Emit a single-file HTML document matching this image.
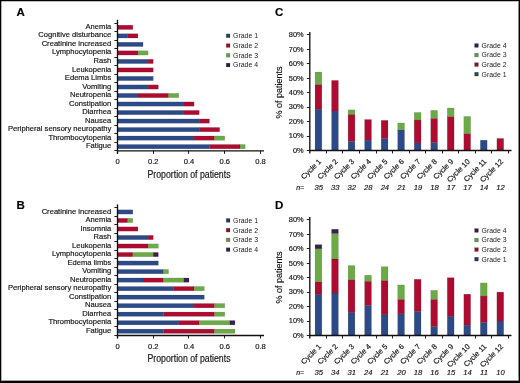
<!DOCTYPE html>
<html><head><meta charset="utf-8"><style>
html,body{margin:0;padding:0;background:#fff;}
body{width:520px;height:383px;overflow:hidden;position:relative;}
svg{position:absolute;left:0;top:0;font-family:'Liberation Sans', sans-serif;filter:blur(0.3px);}
.br{stroke:#000;stroke-opacity:.18;stroke-width:.5px;}
.lg{stroke:#000;stroke-opacity:.25;stroke-width:.5px;}
text{stroke:#000;stroke-width:0.15px;paint-order:stroke;}
.lt{stroke:none;}
.b{position:absolute;background:#000;}
</style></head><body>
<svg width="520" height="383" viewBox="0 0 520 383">
<rect x="0" y="0" width="520" height="383" fill="#fff"/>
<text x="16.6" y="16.45" font-size="11.5" font-weight="bold" fill="#000">A</text>
<rect x="117.5" y="25.21" width="15.32" height="4.3" fill="#ad0b2f" class="br"/>
<text x="111.3" y="28.91" font-size="7.6" text-anchor="end" fill="#111">Anemia</text>
<rect x="117.5" y="33.73" width="10.21" height="4.3" fill="#2c4a87" class="br"/>
<rect x="127.71" y="33.73" width="10.21" height="4.3" fill="#ad0b2f" class="br"/>
<text x="111.3" y="37.43" font-size="7.6" text-anchor="end" fill="#111">Cognitive disturbance</text>
<rect x="117.5" y="42.25" width="25.54" height="4.3" fill="#2c4a87" class="br"/>
<text x="111.3" y="45.95" font-size="7.6" text-anchor="end" fill="#111">Creatinine increased</text>
<rect x="117.5" y="50.77" width="20.43" height="4.3" fill="#ad0b2f" class="br"/>
<rect x="137.93" y="50.77" width="10.21" height="4.3" fill="#6caa46" class="br"/>
<text x="111.3" y="54.47" font-size="7.6" text-anchor="end" fill="#111">Lymphocytopenia</text>
<rect x="117.5" y="59.29" width="30.64" height="4.3" fill="#2c4a87" class="br"/>
<rect x="148.14" y="59.29" width="5.11" height="4.3" fill="#ad0b2f" class="br"/>
<text x="111.3" y="62.99" font-size="7.6" text-anchor="end" fill="#111">Rash</text>
<rect x="117.5" y="67.81" width="35.75" height="4.3" fill="#ad0b2f" class="br"/>
<text x="111.3" y="71.51" font-size="7.6" text-anchor="end" fill="#111">Leukopenia</text>
<rect x="117.5" y="76.33" width="35.75" height="4.3" fill="#2c4a87" class="br"/>
<text x="111.3" y="80.03" font-size="7.6" text-anchor="end" fill="#111">Edema Limbs</text>
<rect x="117.5" y="84.85" width="30.64" height="4.3" fill="#2c4a87" class="br"/>
<rect x="148.14" y="84.85" width="10.21" height="4.3" fill="#ad0b2f" class="br"/>
<text x="111.3" y="88.55" font-size="7.6" text-anchor="end" fill="#111">Vomiting</text>
<rect x="117.5" y="93.37" width="20.43" height="4.3" fill="#2c4a87" class="br"/>
<rect x="137.93" y="93.37" width="30.64" height="4.3" fill="#ad0b2f" class="br"/>
<rect x="168.57" y="93.37" width="10.21" height="4.3" fill="#6caa46" class="br"/>
<text x="111.3" y="97.07" font-size="7.6" text-anchor="end" fill="#111">Neutropenia</text>
<rect x="117.5" y="101.89" width="66.39" height="4.3" fill="#2c4a87" class="br"/>
<rect x="183.89" y="101.89" width="10.21" height="4.3" fill="#ad0b2f" class="br"/>
<text x="111.3" y="105.59" font-size="7.6" text-anchor="end" fill="#111">Constipation</text>
<rect x="117.5" y="110.41" width="66.39" height="4.3" fill="#2c4a87" class="br"/>
<rect x="183.89" y="110.41" width="15.32" height="4.3" fill="#ad0b2f" class="br"/>
<text x="111.3" y="114.11" font-size="7.6" text-anchor="end" fill="#111">Diarrhea</text>
<rect x="117.5" y="118.93" width="81.71" height="4.3" fill="#2c4a87" class="br"/>
<rect x="199.21" y="118.93" width="10.21" height="4.3" fill="#ad0b2f" class="br"/>
<text x="111.3" y="122.63" font-size="7.6" text-anchor="end" fill="#111">Nausea</text>
<rect x="117.5" y="127.45" width="81.71" height="4.3" fill="#2c4a87" class="br"/>
<rect x="199.21" y="127.45" width="20.43" height="4.3" fill="#ad0b2f" class="br"/>
<text x="111.3" y="131.15" font-size="7.6" text-anchor="end" fill="#111">Peripheral sensory neuropathy</text>
<rect x="117.5" y="135.97" width="76.61" height="4.3" fill="#2c4a87" class="br"/>
<rect x="194.11" y="135.97" width="20.43" height="4.3" fill="#ad0b2f" class="br"/>
<rect x="214.54" y="135.97" width="10.21" height="4.3" fill="#6caa46" class="br"/>
<text x="111.3" y="139.67" font-size="7.6" text-anchor="end" fill="#111">Thrombocytopenia</text>
<rect x="117.5" y="144.49" width="91.93" height="4.3" fill="#2c4a87" class="br"/>
<rect x="209.43" y="144.49" width="30.64" height="4.3" fill="#ad0b2f" class="br"/>
<rect x="240.07" y="144.49" width="5.11" height="4.3" fill="#6caa46" class="br"/>
<text x="111.3" y="148.19" font-size="7.6" text-anchor="end" fill="#111">Fatigue</text>
<line x1="117.5" y1="19.8" x2="117.5" y2="153.85" stroke="#111" stroke-width="1.35"/>
<line x1="114.4" y1="23.5" x2="117.5" y2="23.5" stroke="#111" stroke-width="0.95"/>
<line x1="114.4" y1="31.5" x2="117.5" y2="31.5" stroke="#111" stroke-width="0.95"/>
<line x1="114.4" y1="40.5" x2="117.5" y2="40.5" stroke="#111" stroke-width="0.95"/>
<line x1="114.4" y1="48.5" x2="117.5" y2="48.5" stroke="#111" stroke-width="0.95"/>
<line x1="114.4" y1="57.5" x2="117.5" y2="57.5" stroke="#111" stroke-width="0.95"/>
<line x1="114.4" y1="65.5" x2="117.5" y2="65.5" stroke="#111" stroke-width="0.95"/>
<line x1="114.4" y1="74.5" x2="117.5" y2="74.5" stroke="#111" stroke-width="0.95"/>
<line x1="114.4" y1="82.5" x2="117.5" y2="82.5" stroke="#111" stroke-width="0.95"/>
<line x1="114.4" y1="91.5" x2="117.5" y2="91.5" stroke="#111" stroke-width="0.95"/>
<line x1="114.4" y1="99.5" x2="117.5" y2="99.5" stroke="#111" stroke-width="0.95"/>
<line x1="114.4" y1="108.5" x2="117.5" y2="108.5" stroke="#111" stroke-width="0.95"/>
<line x1="114.4" y1="116.5" x2="117.5" y2="116.5" stroke="#111" stroke-width="0.95"/>
<line x1="114.4" y1="125.5" x2="117.5" y2="125.5" stroke="#111" stroke-width="0.95"/>
<line x1="114.4" y1="133.5" x2="117.5" y2="133.5" stroke="#111" stroke-width="0.95"/>
<line x1="114.4" y1="142.5" x2="117.5" y2="142.5" stroke="#111" stroke-width="0.95"/>
<line x1="114.4" y1="150.5" x2="117.5" y2="150.5" stroke="#111" stroke-width="0.95"/>
<line x1="117.5" y1="150.85" x2="264" y2="150.85" stroke="#111" stroke-width="1.35"/>
<line x1="117.5" y1="150.85" x2="117.5" y2="153.85" stroke="#111" stroke-width="0.95"/>
<text x="117.5" y="163.95" font-size="7.6" text-anchor="middle" fill="#111">0</text>
<line x1="153.5" y1="150.85" x2="153.5" y2="153.85" stroke="#111" stroke-width="0.95"/>
<text x="153.25" y="163.95" font-size="7.6" text-anchor="middle" fill="#111">0.2</text>
<line x1="188.5" y1="150.85" x2="188.5" y2="153.85" stroke="#111" stroke-width="0.95"/>
<text x="189" y="163.95" font-size="7.6" text-anchor="middle" fill="#111">0.4</text>
<line x1="224.5" y1="150.85" x2="224.5" y2="153.85" stroke="#111" stroke-width="0.95"/>
<text x="224.75" y="163.95" font-size="7.6" text-anchor="middle" fill="#111">0.6</text>
<line x1="260.5" y1="150.85" x2="260.5" y2="153.85" stroke="#111" stroke-width="0.95"/>
<text x="260.5" y="163.95" font-size="7.6" text-anchor="middle" fill="#111">0.8</text>
<text transform="translate(189,177.7) scale(0.875,1)" font-size="10" text-anchor="middle" fill="#111">Proportion of patients</text>
<rect x="226.2" y="33.9" width="3.8" height="3.8" fill="#1f4a5c" class="lg"/>
<text x="233.1" y="38.2" font-size="6.9" fill="#222" class="lt">Grade 1</text>
<rect x="226.2" y="43.65" width="3.8" height="3.8" fill="#96122e" class="lg"/>
<text x="233.1" y="47.95" font-size="6.9" fill="#222" class="lt">Grade 2</text>
<rect x="226.2" y="53.4" width="3.8" height="3.8" fill="#6b9c4c" class="lg"/>
<text x="233.1" y="57.7" font-size="6.9" fill="#222" class="lt">Grade 3</text>
<rect x="226.2" y="63.15" width="3.8" height="3.8" fill="#2e1b40" class="lg"/>
<text x="233.1" y="67.45" font-size="6.9" fill="#222" class="lt">Grade 4</text>
<text x="16.6" y="208.75" font-size="11.5" font-weight="bold" fill="#000">B</text>
<rect x="117.5" y="209.81" width="15.32" height="4.3" fill="#2c4a87" class="br"/>
<text x="111.3" y="213.51" font-size="7.6" text-anchor="end" fill="#111">Creatinine increased</text>
<rect x="117.5" y="218.33" width="10.21" height="4.3" fill="#ad0b2f" class="br"/>
<rect x="127.71" y="218.33" width="5.11" height="4.3" fill="#6caa46" class="br"/>
<text x="111.3" y="222.03" font-size="7.6" text-anchor="end" fill="#111">Anemia</text>
<rect x="117.5" y="226.85" width="20.43" height="4.3" fill="#ad0b2f" class="br"/>
<text x="111.3" y="230.55" font-size="7.6" text-anchor="end" fill="#111">Insomnia</text>
<rect x="117.5" y="235.37" width="30.64" height="4.3" fill="#2c4a87" class="br"/>
<rect x="148.14" y="235.37" width="5.11" height="4.3" fill="#ad0b2f" class="br"/>
<text x="111.3" y="239.07" font-size="7.6" text-anchor="end" fill="#111">Rash</text>
<rect x="117.5" y="243.89" width="30.64" height="4.3" fill="#ad0b2f" class="br"/>
<rect x="148.14" y="243.89" width="10.21" height="4.3" fill="#6caa46" class="br"/>
<text x="111.3" y="247.59" font-size="7.6" text-anchor="end" fill="#111">Leukopenia</text>
<rect x="117.5" y="252.41" width="15.32" height="4.3" fill="#ad0b2f" class="br"/>
<rect x="132.82" y="252.41" width="20.43" height="4.3" fill="#6caa46" class="br"/>
<rect x="153.25" y="252.41" width="5.11" height="4.3" fill="#3a1f50" class="br"/>
<text x="111.3" y="256.11" font-size="7.6" text-anchor="end" fill="#111">Lymphocytopenia</text>
<rect x="117.5" y="260.93" width="40.86" height="4.3" fill="#2c4a87" class="br"/>
<text x="111.3" y="264.63" font-size="7.6" text-anchor="end" fill="#111">Edema limbs</text>
<rect x="117.5" y="269.45" width="45.96" height="4.3" fill="#2c4a87" class="br"/>
<rect x="163.46" y="269.45" width="5.11" height="4.3" fill="#6caa46" class="br"/>
<text x="111.3" y="273.15" font-size="7.6" text-anchor="end" fill="#111">Vomiting</text>
<rect x="117.5" y="277.97" width="25.54" height="4.3" fill="#2c4a87" class="br"/>
<rect x="143.04" y="277.97" width="20.43" height="4.3" fill="#ad0b2f" class="br"/>
<rect x="163.46" y="277.97" width="20.43" height="4.3" fill="#6caa46" class="br"/>
<rect x="183.89" y="277.97" width="5.11" height="4.3" fill="#3a1f50" class="br"/>
<text x="111.3" y="281.67" font-size="7.6" text-anchor="end" fill="#111">Neutropenia</text>
<rect x="117.5" y="286.49" width="56.18" height="4.3" fill="#2c4a87" class="br"/>
<rect x="173.68" y="286.49" width="20.43" height="4.3" fill="#ad0b2f" class="br"/>
<rect x="194.11" y="286.49" width="10.21" height="4.3" fill="#6caa46" class="br"/>
<text x="111.3" y="290.19" font-size="7.6" text-anchor="end" fill="#111">Peripheral sensory neuropathy</text>
<rect x="117.5" y="295.01" width="86.82" height="4.3" fill="#2c4a87" class="br"/>
<text x="111.3" y="298.71" font-size="7.6" text-anchor="end" fill="#111">Constipation</text>
<rect x="117.5" y="303.53" width="76.61" height="4.3" fill="#2c4a87" class="br"/>
<rect x="194.11" y="303.53" width="20.43" height="4.3" fill="#ad0b2f" class="br"/>
<rect x="214.54" y="303.53" width="10.21" height="4.3" fill="#6caa46" class="br"/>
<text x="111.3" y="307.23" font-size="7.6" text-anchor="end" fill="#111">Nausea</text>
<rect x="117.5" y="312.05" width="45.96" height="4.3" fill="#2c4a87" class="br"/>
<rect x="163.46" y="312.05" width="51.07" height="4.3" fill="#ad0b2f" class="br"/>
<rect x="214.54" y="312.05" width="10.21" height="4.3" fill="#6caa46" class="br"/>
<text x="111.3" y="315.75" font-size="7.6" text-anchor="end" fill="#111">Diarrhea</text>
<rect x="117.5" y="320.57" width="61.29" height="4.3" fill="#2c4a87" class="br"/>
<rect x="178.79" y="320.57" width="20.43" height="4.3" fill="#ad0b2f" class="br"/>
<rect x="199.21" y="320.57" width="30.64" height="4.3" fill="#6caa46" class="br"/>
<rect x="229.86" y="320.57" width="5.11" height="4.3" fill="#3a1f50" class="br"/>
<text x="111.3" y="324.27" font-size="7.6" text-anchor="end" fill="#111">Thrombocytopenia</text>
<rect x="117.5" y="329.09" width="45.96" height="4.3" fill="#2c4a87" class="br"/>
<rect x="163.46" y="329.09" width="51.07" height="4.3" fill="#ad0b2f" class="br"/>
<rect x="214.54" y="329.09" width="20.43" height="4.3" fill="#6caa46" class="br"/>
<text x="111.3" y="332.79" font-size="7.6" text-anchor="end" fill="#111">Fatigue</text>
<line x1="117.5" y1="204.4" x2="117.5" y2="338.45" stroke="#111" stroke-width="1.35"/>
<line x1="114.4" y1="207.5" x2="117.5" y2="207.5" stroke="#111" stroke-width="0.95"/>
<line x1="114.4" y1="216.5" x2="117.5" y2="216.5" stroke="#111" stroke-width="0.95"/>
<line x1="114.4" y1="224.5" x2="117.5" y2="224.5" stroke="#111" stroke-width="0.95"/>
<line x1="114.4" y1="233.5" x2="117.5" y2="233.5" stroke="#111" stroke-width="0.95"/>
<line x1="114.4" y1="241.5" x2="117.5" y2="241.5" stroke="#111" stroke-width="0.95"/>
<line x1="114.4" y1="250.5" x2="117.5" y2="250.5" stroke="#111" stroke-width="0.95"/>
<line x1="114.4" y1="258.5" x2="117.5" y2="258.5" stroke="#111" stroke-width="0.95"/>
<line x1="114.4" y1="267.5" x2="117.5" y2="267.5" stroke="#111" stroke-width="0.95"/>
<line x1="114.4" y1="275.5" x2="117.5" y2="275.5" stroke="#111" stroke-width="0.95"/>
<line x1="114.4" y1="284.5" x2="117.5" y2="284.5" stroke="#111" stroke-width="0.95"/>
<line x1="114.4" y1="292.5" x2="117.5" y2="292.5" stroke="#111" stroke-width="0.95"/>
<line x1="114.4" y1="301.5" x2="117.5" y2="301.5" stroke="#111" stroke-width="0.95"/>
<line x1="114.4" y1="309.5" x2="117.5" y2="309.5" stroke="#111" stroke-width="0.95"/>
<line x1="114.4" y1="318.5" x2="117.5" y2="318.5" stroke="#111" stroke-width="0.95"/>
<line x1="114.4" y1="326.5" x2="117.5" y2="326.5" stroke="#111" stroke-width="0.95"/>
<line x1="114.4" y1="335.5" x2="117.5" y2="335.5" stroke="#111" stroke-width="0.95"/>
<line x1="117.5" y1="335.45" x2="264" y2="335.45" stroke="#111" stroke-width="1.35"/>
<line x1="117.5" y1="335.45" x2="117.5" y2="338.45" stroke="#111" stroke-width="0.95"/>
<text x="117.5" y="348.55" font-size="7.6" text-anchor="middle" fill="#111">0</text>
<line x1="153.5" y1="335.45" x2="153.5" y2="338.45" stroke="#111" stroke-width="0.95"/>
<text x="153.25" y="348.55" font-size="7.6" text-anchor="middle" fill="#111">0.2</text>
<line x1="188.5" y1="335.45" x2="188.5" y2="338.45" stroke="#111" stroke-width="0.95"/>
<text x="189" y="348.55" font-size="7.6" text-anchor="middle" fill="#111">0.4</text>
<line x1="224.5" y1="335.45" x2="224.5" y2="338.45" stroke="#111" stroke-width="0.95"/>
<text x="224.75" y="348.55" font-size="7.6" text-anchor="middle" fill="#111">0.6</text>
<line x1="260.5" y1="335.45" x2="260.5" y2="338.45" stroke="#111" stroke-width="0.95"/>
<text x="260.5" y="348.55" font-size="7.6" text-anchor="middle" fill="#111">0.8</text>
<text transform="translate(189,362.3) scale(0.875,1)" font-size="10" text-anchor="middle" fill="#111">Proportion of patients</text>
<rect x="226.2" y="218.5" width="3.8" height="3.8" fill="#283a62" class="lg"/>
<text x="233.1" y="222.8" font-size="6.9" fill="#222" class="lt">Grade 1</text>
<rect x="226.2" y="228.25" width="3.8" height="3.8" fill="#8e1030" class="lg"/>
<text x="233.1" y="232.55" font-size="6.9" fill="#222" class="lt">Grade 2</text>
<rect x="226.2" y="238" width="3.8" height="3.8" fill="#6b8f52" class="lg"/>
<text x="233.1" y="242.3" font-size="6.9" fill="#222" class="lt">Grade 3</text>
<rect x="226.2" y="247.75" width="3.8" height="3.8" fill="#352445" class="lg"/>
<text x="233.1" y="252.05" font-size="6.9" fill="#222" class="lt">Grade 4</text>
<text x="275" y="16.45" font-size="11.5" font-weight="bold" fill="#000">C</text>
<rect x="315.05" y="109.19" width="6.8" height="41.29" fill="#2c4a87" class="br"/>
<rect x="315.05" y="84.42" width="6.8" height="24.77" fill="#ad0b2f" class="br"/>
<rect x="315.05" y="72.04" width="6.8" height="12.39" fill="#6caa46" class="br"/>
<text transform="translate(321.75,162.08) rotate(-45)" font-size="7.5" text-anchor="end" fill="#111">Cycle 1</text>
<text x="318.75" y="190.28" font-size="7.6" font-style="italic" text-anchor="middle" fill="#111">35</text>
<rect x="331.58" y="111.07" width="6.8" height="39.41" fill="#2c4a87" class="br"/>
<rect x="331.58" y="80.42" width="6.8" height="30.65" fill="#ad0b2f" class="br"/>
<text transform="translate(338.28,162.08) rotate(-45)" font-size="7.5" text-anchor="end" fill="#111">Cycle 2</text>
<text x="335.28" y="190.28" font-size="7.6" font-style="italic" text-anchor="middle" fill="#111">33</text>
<rect x="348.11" y="141.45" width="6.8" height="9.03" fill="#2c4a87" class="br"/>
<rect x="348.11" y="114.35" width="6.8" height="27.09" fill="#ad0b2f" class="br"/>
<rect x="348.11" y="109.84" width="6.8" height="4.52" fill="#6caa46" class="br"/>
<text transform="translate(354.81,162.08) rotate(-45)" font-size="7.5" text-anchor="end" fill="#111">Cycle 3</text>
<text x="351.81" y="190.28" font-size="7.6" font-style="italic" text-anchor="middle" fill="#111">32</text>
<rect x="364.64" y="140.16" width="6.8" height="10.32" fill="#2c4a87" class="br"/>
<rect x="364.64" y="119.52" width="6.8" height="20.64" fill="#ad0b2f" class="br"/>
<text transform="translate(371.34,162.08) rotate(-45)" font-size="7.5" text-anchor="end" fill="#111">Cycle 4</text>
<text x="368.34" y="190.28" font-size="7.6" font-style="italic" text-anchor="middle" fill="#111">28</text>
<rect x="381.17" y="138.44" width="6.8" height="12.04" fill="#2c4a87" class="br"/>
<rect x="381.17" y="120.38" width="6.8" height="18.06" fill="#ad0b2f" class="br"/>
<text transform="translate(387.87,162.08) rotate(-45)" font-size="7.5" text-anchor="end" fill="#111">Cycle 5</text>
<text x="384.87" y="190.28" font-size="7.6" font-style="italic" text-anchor="middle" fill="#111">24</text>
<rect x="397.7" y="129.84" width="6.8" height="20.64" fill="#2c4a87" class="br"/>
<rect x="397.7" y="122.96" width="6.8" height="6.88" fill="#6caa46" class="br"/>
<text transform="translate(404.4,162.08) rotate(-45)" font-size="7.5" text-anchor="end" fill="#111">Cycle 6</text>
<text x="401.4" y="190.28" font-size="7.6" font-style="italic" text-anchor="middle" fill="#111">21</text>
<rect x="414.23" y="142.87" width="6.8" height="7.61" fill="#2c4a87" class="br"/>
<rect x="414.23" y="120.06" width="6.8" height="22.82" fill="#ad0b2f" class="br"/>
<rect x="414.23" y="112.45" width="6.8" height="7.61" fill="#6caa46" class="br"/>
<text transform="translate(420.93,162.08) rotate(-45)" font-size="7.5" text-anchor="end" fill="#111">Cycle 7</text>
<text x="417.93" y="190.28" font-size="7.6" font-style="italic" text-anchor="middle" fill="#111">19</text>
<rect x="430.76" y="142.45" width="6.8" height="8.03" fill="#2c4a87" class="br"/>
<rect x="430.76" y="118.37" width="6.8" height="24.08" fill="#ad0b2f" class="br"/>
<rect x="430.76" y="110.34" width="6.8" height="8.03" fill="#6caa46" class="br"/>
<text transform="translate(437.46,162.08) rotate(-45)" font-size="7.5" text-anchor="end" fill="#111">Cycle 8</text>
<text x="434.46" y="190.28" font-size="7.6" font-style="italic" text-anchor="middle" fill="#111">18</text>
<rect x="447.29" y="116.48" width="6.8" height="34" fill="#ad0b2f" class="br"/>
<rect x="447.29" y="107.98" width="6.8" height="8.5" fill="#6caa46" class="br"/>
<text transform="translate(453.99,162.08) rotate(-45)" font-size="7.5" text-anchor="end" fill="#111">Cycle 9</text>
<text x="450.99" y="190.28" font-size="7.6" font-style="italic" text-anchor="middle" fill="#111">17</text>
<rect x="463.82" y="133.48" width="6.8" height="17" fill="#ad0b2f" class="br"/>
<rect x="463.82" y="116.48" width="6.8" height="17" fill="#6caa46" class="br"/>
<text transform="translate(470.52,162.08) rotate(-45)" font-size="7.5" text-anchor="end" fill="#111">Cycle 10</text>
<text x="467.52" y="190.28" font-size="7.6" font-style="italic" text-anchor="middle" fill="#111">17</text>
<rect x="480.35" y="140.16" width="6.8" height="10.32" fill="#2c4a87" class="br"/>
<text transform="translate(487.05,162.08) rotate(-45)" font-size="7.5" text-anchor="end" fill="#111">Cycle 11</text>
<text x="484.05" y="190.28" font-size="7.6" font-style="italic" text-anchor="middle" fill="#111">14</text>
<rect x="496.88" y="138.44" width="6.8" height="12.04" fill="#ad0b2f" class="br"/>
<text transform="translate(503.58,162.08) rotate(-45)" font-size="7.5" text-anchor="end" fill="#111">Cycle 12</text>
<text x="500.58" y="190.28" font-size="7.6" font-style="italic" text-anchor="middle" fill="#111">12</text>
<text x="296.2" y="190.28" font-size="7.0" font-style="italic" fill="#111">n=</text>
<line x1="309.8" y1="31.98" x2="309.8" y2="153.48" stroke="#111" stroke-width="1.35"/>
<line x1="309.8" y1="150.48" x2="511.5" y2="150.48" stroke="#111" stroke-width="1.35"/>
<line x1="306.8" y1="150.5" x2="309.8" y2="150.5" stroke="#111" stroke-width="0.95"/>
<text x="303.6" y="152.83" font-size="7.4" text-anchor="end" fill="#111">0%</text>
<line x1="306.8" y1="136.5" x2="309.8" y2="136.5" stroke="#111" stroke-width="0.95"/>
<text x="303.6" y="138.38" font-size="7.4" text-anchor="end" fill="#111">10%</text>
<line x1="306.8" y1="121.5" x2="309.8" y2="121.5" stroke="#111" stroke-width="0.95"/>
<text x="303.6" y="123.93" font-size="7.4" text-anchor="end" fill="#111">20%</text>
<line x1="306.8" y1="107.5" x2="309.8" y2="107.5" stroke="#111" stroke-width="0.95"/>
<text x="303.6" y="109.48" font-size="7.4" text-anchor="end" fill="#111">30%</text>
<line x1="306.8" y1="92.5" x2="309.8" y2="92.5" stroke="#111" stroke-width="0.95"/>
<text x="303.6" y="95.03" font-size="7.4" text-anchor="end" fill="#111">40%</text>
<line x1="306.8" y1="78.5" x2="309.8" y2="78.5" stroke="#111" stroke-width="0.95"/>
<text x="303.6" y="80.58" font-size="7.4" text-anchor="end" fill="#111">50%</text>
<line x1="306.8" y1="63.5" x2="309.8" y2="63.5" stroke="#111" stroke-width="0.95"/>
<text x="303.6" y="66.13" font-size="7.4" text-anchor="end" fill="#111">60%</text>
<line x1="306.8" y1="49.5" x2="309.8" y2="49.5" stroke="#111" stroke-width="0.95"/>
<text x="303.6" y="51.68" font-size="7.4" text-anchor="end" fill="#111">70%</text>
<line x1="306.8" y1="34.5" x2="309.8" y2="34.5" stroke="#111" stroke-width="0.95"/>
<text x="303.6" y="37.23" font-size="7.4" text-anchor="end" fill="#111">80%</text>
<line x1="326.5" y1="150.48" x2="326.5" y2="153.48" stroke="#111" stroke-width="0.95"/>
<line x1="342.5" y1="150.48" x2="342.5" y2="153.48" stroke="#111" stroke-width="0.95"/>
<line x1="359.5" y1="150.48" x2="359.5" y2="153.48" stroke="#111" stroke-width="0.95"/>
<line x1="376.5" y1="150.48" x2="376.5" y2="153.48" stroke="#111" stroke-width="0.95"/>
<line x1="392.5" y1="150.48" x2="392.5" y2="153.48" stroke="#111" stroke-width="0.95"/>
<line x1="409.5" y1="150.48" x2="409.5" y2="153.48" stroke="#111" stroke-width="0.95"/>
<line x1="425.5" y1="150.48" x2="425.5" y2="153.48" stroke="#111" stroke-width="0.95"/>
<line x1="442.5" y1="150.48" x2="442.5" y2="153.48" stroke="#111" stroke-width="0.95"/>
<line x1="458.5" y1="150.48" x2="458.5" y2="153.48" stroke="#111" stroke-width="0.95"/>
<line x1="475.5" y1="150.48" x2="475.5" y2="153.48" stroke="#111" stroke-width="0.95"/>
<line x1="491.5" y1="150.48" x2="491.5" y2="153.48" stroke="#111" stroke-width="0.95"/>
<line x1="508.5" y1="150.48" x2="508.5" y2="153.48" stroke="#111" stroke-width="0.95"/>
<text transform="translate(282.3,92.5) rotate(-90)" font-size="9.0" text-anchor="middle" fill="#111">% of patients</text>
<rect x="474.6" y="43.6" width="3.8" height="3.8" fill="#2e1e45" class="lg"/>
<text x="481.6" y="47.9" font-size="6.9" fill="#222" class="lt">Grade 4</text>
<rect x="474.6" y="53.15" width="3.8" height="3.8" fill="#5f9455" class="lg"/>
<text x="481.6" y="57.45" font-size="6.9" fill="#222" class="lt">Grade 3</text>
<rect x="474.6" y="62.7" width="3.8" height="3.8" fill="#7e1526" class="lg"/>
<text x="481.6" y="67" font-size="6.9" fill="#222" class="lt">Grade 2</text>
<rect x="474.6" y="72.25" width="3.8" height="3.8" fill="#1e4a55" class="lg"/>
<text x="481.6" y="76.55" font-size="6.9" fill="#222" class="lt">Grade 1</text>
<text x="275" y="208.75" font-size="11.5" font-weight="bold" fill="#000">D</text>
<rect x="315.05" y="294.19" width="6.8" height="41.29" fill="#2c4a87" class="br"/>
<rect x="315.05" y="281.81" width="6.8" height="12.39" fill="#ad0b2f" class="br"/>
<rect x="315.05" y="248.78" width="6.8" height="33.03" fill="#6caa46" class="br"/>
<rect x="315.05" y="244.65" width="6.8" height="4.13" fill="#3a1f50" class="br"/>
<text transform="translate(321.75,347.08) rotate(-45)" font-size="7.5" text-anchor="end" fill="#111">Cycle 1</text>
<text x="318.75" y="375.28" font-size="7.6" font-style="italic" text-anchor="middle" fill="#111">35</text>
<rect x="331.58" y="292.98" width="6.8" height="42.5" fill="#2c4a87" class="br"/>
<rect x="331.58" y="258.98" width="6.8" height="34" fill="#ad0b2f" class="br"/>
<rect x="331.58" y="233.48" width="6.8" height="25.5" fill="#6caa46" class="br"/>
<rect x="331.58" y="229.23" width="6.8" height="4.25" fill="#3a1f50" class="br"/>
<text transform="translate(338.28,347.08) rotate(-45)" font-size="7.5" text-anchor="end" fill="#111">Cycle 2</text>
<text x="335.28" y="375.28" font-size="7.6" font-style="italic" text-anchor="middle" fill="#111">34</text>
<rect x="348.11" y="312.17" width="6.8" height="23.31" fill="#2c4a87" class="br"/>
<rect x="348.11" y="279.54" width="6.8" height="32.63" fill="#ad0b2f" class="br"/>
<rect x="348.11" y="265.56" width="6.8" height="13.98" fill="#6caa46" class="br"/>
<text transform="translate(354.81,347.08) rotate(-45)" font-size="7.5" text-anchor="end" fill="#111">Cycle 3</text>
<text x="351.81" y="375.28" font-size="7.6" font-style="italic" text-anchor="middle" fill="#111">31</text>
<rect x="364.64" y="305.38" width="6.8" height="30.1" fill="#2c4a87" class="br"/>
<rect x="364.64" y="281.29" width="6.8" height="24.08" fill="#ad0b2f" class="br"/>
<rect x="364.64" y="275.27" width="6.8" height="6.02" fill="#6caa46" class="br"/>
<text transform="translate(371.34,347.08) rotate(-45)" font-size="7.5" text-anchor="end" fill="#111">Cycle 4</text>
<text x="368.34" y="375.28" font-size="7.6" font-style="italic" text-anchor="middle" fill="#111">24</text>
<rect x="381.17" y="314.84" width="6.8" height="20.64" fill="#2c4a87" class="br"/>
<rect x="381.17" y="280.43" width="6.8" height="34.4" fill="#ad0b2f" class="br"/>
<rect x="381.17" y="266.67" width="6.8" height="13.76" fill="#6caa46" class="br"/>
<text transform="translate(387.87,347.08) rotate(-45)" font-size="7.5" text-anchor="end" fill="#111">Cycle 5</text>
<text x="384.87" y="375.28" font-size="7.6" font-style="italic" text-anchor="middle" fill="#111">21</text>
<rect x="397.7" y="313.81" width="6.8" height="21.68" fill="#2c4a87" class="br"/>
<rect x="397.7" y="299.36" width="6.8" height="14.45" fill="#ad0b2f" class="br"/>
<rect x="397.7" y="284.91" width="6.8" height="14.45" fill="#6caa46" class="br"/>
<text transform="translate(404.4,347.08) rotate(-45)" font-size="7.5" text-anchor="end" fill="#111">Cycle 6</text>
<text x="401.4" y="375.28" font-size="7.6" font-style="italic" text-anchor="middle" fill="#111">20</text>
<rect x="414.23" y="311.4" width="6.8" height="24.08" fill="#2c4a87" class="br"/>
<rect x="414.23" y="279.29" width="6.8" height="32.11" fill="#ad0b2f" class="br"/>
<text transform="translate(420.93,347.08) rotate(-45)" font-size="7.5" text-anchor="end" fill="#111">Cycle 7</text>
<text x="417.93" y="375.28" font-size="7.6" font-style="italic" text-anchor="middle" fill="#111">18</text>
<rect x="430.76" y="326.45" width="6.8" height="9.03" fill="#2c4a87" class="br"/>
<rect x="430.76" y="299.36" width="6.8" height="27.09" fill="#ad0b2f" class="br"/>
<rect x="430.76" y="290.32" width="6.8" height="9.03" fill="#6caa46" class="br"/>
<text transform="translate(437.46,347.08) rotate(-45)" font-size="7.5" text-anchor="end" fill="#111">Cycle 8</text>
<text x="434.46" y="375.28" font-size="7.6" font-style="italic" text-anchor="middle" fill="#111">16</text>
<rect x="447.29" y="316.21" width="6.8" height="19.27" fill="#2c4a87" class="br"/>
<rect x="447.29" y="277.68" width="6.8" height="38.53" fill="#ad0b2f" class="br"/>
<text transform="translate(453.99,347.08) rotate(-45)" font-size="7.5" text-anchor="end" fill="#111">Cycle 9</text>
<text x="450.99" y="375.28" font-size="7.6" font-style="italic" text-anchor="middle" fill="#111">15</text>
<rect x="463.82" y="325.16" width="6.8" height="10.32" fill="#2c4a87" class="br"/>
<rect x="463.82" y="294.19" width="6.8" height="30.96" fill="#ad0b2f" class="br"/>
<text transform="translate(470.52,347.08) rotate(-45)" font-size="7.5" text-anchor="end" fill="#111">Cycle 10</text>
<text x="467.52" y="375.28" font-size="7.6" font-style="italic" text-anchor="middle" fill="#111">14</text>
<rect x="480.35" y="322.34" width="6.8" height="13.14" fill="#2c4a87" class="br"/>
<rect x="480.35" y="296.07" width="6.8" height="26.27" fill="#ad0b2f" class="br"/>
<rect x="480.35" y="282.93" width="6.8" height="13.14" fill="#6caa46" class="br"/>
<text transform="translate(487.05,347.08) rotate(-45)" font-size="7.5" text-anchor="end" fill="#111">Cycle 11</text>
<text x="484.05" y="375.28" font-size="7.6" font-style="italic" text-anchor="middle" fill="#111">11</text>
<rect x="496.88" y="321.03" width="6.8" height="14.45" fill="#2c4a87" class="br"/>
<rect x="496.88" y="292.13" width="6.8" height="28.9" fill="#ad0b2f" class="br"/>
<text transform="translate(503.58,347.08) rotate(-45)" font-size="7.5" text-anchor="end" fill="#111">Cycle 12</text>
<text x="500.58" y="375.28" font-size="7.6" font-style="italic" text-anchor="middle" fill="#111">10</text>
<text x="296.2" y="375.28" font-size="7.0" font-style="italic" fill="#111">n=</text>
<line x1="309.8" y1="216.98" x2="309.8" y2="338.48" stroke="#111" stroke-width="1.35"/>
<line x1="309.8" y1="335.48" x2="511.5" y2="335.48" stroke="#111" stroke-width="1.35"/>
<line x1="306.8" y1="335.5" x2="309.8" y2="335.5" stroke="#111" stroke-width="0.95"/>
<text x="303.6" y="337.83" font-size="7.4" text-anchor="end" fill="#111">0%</text>
<line x1="306.8" y1="321.5" x2="309.8" y2="321.5" stroke="#111" stroke-width="0.95"/>
<text x="303.6" y="323.38" font-size="7.4" text-anchor="end" fill="#111">10%</text>
<line x1="306.8" y1="306.5" x2="309.8" y2="306.5" stroke="#111" stroke-width="0.95"/>
<text x="303.6" y="308.93" font-size="7.4" text-anchor="end" fill="#111">20%</text>
<line x1="306.8" y1="292.5" x2="309.8" y2="292.5" stroke="#111" stroke-width="0.95"/>
<text x="303.6" y="294.48" font-size="7.4" text-anchor="end" fill="#111">30%</text>
<line x1="306.8" y1="277.5" x2="309.8" y2="277.5" stroke="#111" stroke-width="0.95"/>
<text x="303.6" y="280.03" font-size="7.4" text-anchor="end" fill="#111">40%</text>
<line x1="306.8" y1="263.5" x2="309.8" y2="263.5" stroke="#111" stroke-width="0.95"/>
<text x="303.6" y="265.58" font-size="7.4" text-anchor="end" fill="#111">50%</text>
<line x1="306.8" y1="248.5" x2="309.8" y2="248.5" stroke="#111" stroke-width="0.95"/>
<text x="303.6" y="251.13" font-size="7.4" text-anchor="end" fill="#111">60%</text>
<line x1="306.8" y1="234.5" x2="309.8" y2="234.5" stroke="#111" stroke-width="0.95"/>
<text x="303.6" y="236.68" font-size="7.4" text-anchor="end" fill="#111">70%</text>
<line x1="306.8" y1="219.5" x2="309.8" y2="219.5" stroke="#111" stroke-width="0.95"/>
<text x="303.6" y="222.23" font-size="7.4" text-anchor="end" fill="#111">80%</text>
<line x1="326.5" y1="335.48" x2="326.5" y2="338.48" stroke="#111" stroke-width="0.95"/>
<line x1="342.5" y1="335.48" x2="342.5" y2="338.48" stroke="#111" stroke-width="0.95"/>
<line x1="359.5" y1="335.48" x2="359.5" y2="338.48" stroke="#111" stroke-width="0.95"/>
<line x1="376.5" y1="335.48" x2="376.5" y2="338.48" stroke="#111" stroke-width="0.95"/>
<line x1="392.5" y1="335.48" x2="392.5" y2="338.48" stroke="#111" stroke-width="0.95"/>
<line x1="409.5" y1="335.48" x2="409.5" y2="338.48" stroke="#111" stroke-width="0.95"/>
<line x1="425.5" y1="335.48" x2="425.5" y2="338.48" stroke="#111" stroke-width="0.95"/>
<line x1="442.5" y1="335.48" x2="442.5" y2="338.48" stroke="#111" stroke-width="0.95"/>
<line x1="458.5" y1="335.48" x2="458.5" y2="338.48" stroke="#111" stroke-width="0.95"/>
<line x1="475.5" y1="335.48" x2="475.5" y2="338.48" stroke="#111" stroke-width="0.95"/>
<line x1="491.5" y1="335.48" x2="491.5" y2="338.48" stroke="#111" stroke-width="0.95"/>
<line x1="508.5" y1="335.48" x2="508.5" y2="338.48" stroke="#111" stroke-width="0.95"/>
<text transform="translate(282.3,277.5) rotate(-90)" font-size="9.0" text-anchor="middle" fill="#111">% of patients</text>
<rect x="474.6" y="228.6" width="3.8" height="3.8" fill="#2e1e45" class="lg"/>
<text x="481.6" y="232.9" font-size="6.9" fill="#222" class="lt">Grade 4</text>
<rect x="474.6" y="238.15" width="3.8" height="3.8" fill="#5c9a50" class="lg"/>
<text x="481.6" y="242.45" font-size="6.9" fill="#222" class="lt">Grade 3</text>
<rect x="474.6" y="247.7" width="3.8" height="3.8" fill="#861a2a" class="lg"/>
<text x="481.6" y="252" font-size="6.9" fill="#222" class="lt">Grade 2</text>
<rect x="474.6" y="257.25" width="3.8" height="3.8" fill="#263a66" class="lg"/>
<text x="481.6" y="261.55" font-size="6.9" fill="#222" class="lt">Grade 1</text>
</svg>
<div class="b" style="left:0;top:0;width:520px;height:1px"></div>
<div class="b" style="left:0;top:0;width:1px;height:383px"></div>
<div class="b" style="left:519px;top:0;width:1px;height:383px"></div>
<div class="b" style="left:518px;top:0;width:1px;height:383px;opacity:.45"></div>
<div class="b" style="left:0;top:381px;width:520px;height:2px"></div>
<div class="b" style="left:1px;top:380px;width:517px;height:1px;opacity:.35"></div>
<div class="b" style="left:1px;top:1px;width:517px;height:1px;opacity:.25"></div>
<div class="b" style="left:1px;top:1px;width:1px;height:379px;opacity:.3"></div>
</body></html>
